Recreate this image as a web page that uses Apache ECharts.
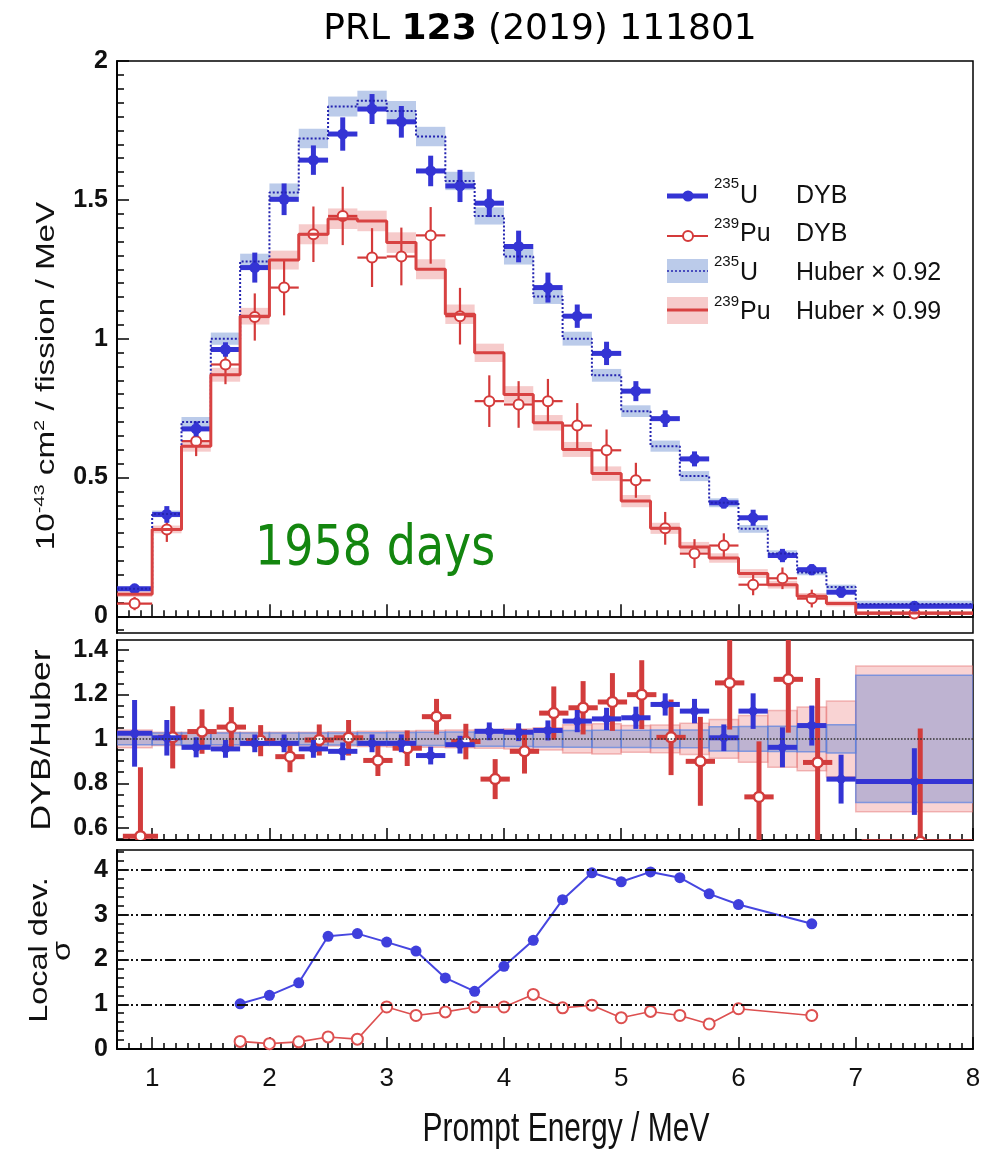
<!DOCTYPE html>
<html>
<head>
<meta charset="utf-8">
<script src="https://cdn.jsdelivr.net/npm/echarts@6/dist/echarts.min.js"></script>
<style>html,body{margin:0;padding:0;background:#fff;}#c{width:994px;height:1149px;}</style>
</head>
<body>
<div id="c"></div>
<script>
// ---------------- data ----------------
const binEdges = [0.7,1.0,1.25,1.5,1.75,2.0,2.25,2.5,2.75,3.0,3.25,3.5,3.75,4.0,4.25,4.5,4.75,5.0,5.25,5.5,5.75,6.0,6.25,6.5,6.75,7.0,8.0];

const u235DYB    = [0.099,0.367,0.675,0.961,1.256,1.502,1.643,1.737,1.827,1.781,1.604,1.550,1.488,1.332,1.184,1.081,0.947,0.811,0.712,0.567,0.409,0.355,0.219,0.168,0.087,0.036];
const u235DYBErr = [0.018,0.030,0.027,0.026,0.054,0.057,0.053,0.060,0.054,0.057,0.055,0.058,0.050,0.057,0.054,0.042,0.042,0.036,0.030,0.027,0.021,0.029,0.024,0.020,0.020,0.018];
const pu239DYB    = [0.046,0.313,0.631,0.907,1.078,1.184,1.376,1.442,1.292,1.296,1.372,1.081,0.775,0.763,0.775,0.687,0.598,0.490,0.317,0.226,0.255,0.114,0.137,0.064,null,0.010];
const pu239DYBErr = [0.024,0.045,0.054,0.071,0.085,0.100,0.100,0.105,0.106,0.104,0.102,0.102,0.093,0.084,0.080,0.081,0.075,0.063,0.059,0.052,0.044,0.038,0.039,0.032,null,0.010];

const u235Huber     = [0.099,0.369,0.700,1.000,1.278,1.526,1.721,1.836,1.857,1.820,1.728,1.568,1.442,1.296,1.152,1.000,0.868,0.739,0.613,0.505,0.409,0.315,0.226,0.158,0.106,0.044];
const u235HuberBand = [0.008,0.012,0.018,0.022,0.028,0.033,0.035,0.036,0.036,0.036,0.035,0.033,0.031,0.029,0.027,0.025,0.023,0.021,0.020,0.018,0.016,0.014,0.012,0.010,0.008,0.012];
const pu239Huber     = [0.080,0.313,0.613,0.870,1.081,1.283,1.376,1.432,1.424,1.346,1.250,1.088,0.949,0.799,0.697,0.601,0.514,0.415,0.317,0.250,0.210,0.154,0.114,0.072,0.046,0.012];
const pu239HuberBand = [0.010,0.014,0.020,0.025,0.030,0.034,0.036,0.037,0.037,0.037,0.036,0.035,0.033,0.030,0.028,0.027,0.026,0.022,0.020,0.018,0.017,0.016,0.014,0.012,0.010,0.006];

const u235Ratio    = [1.025,1.005,0.962,0.955,0.980,0.980,0.955,0.944,0.980,0.980,0.925,0.974,1.034,1.030,1.038,1.080,1.090,1.095,1.155,1.125,1.005,1.125,0.962,1.060,0.819,0.808];
const u235RatioErr = [0.150,0.080,0.045,0.040,0.040,0.040,0.040,0.040,0.040,0.040,0.040,0.040,0.040,0.040,0.045,0.050,0.050,0.050,0.050,0.055,0.060,0.080,0.090,0.090,0.110,0.150];
const pu239Ratio    = [0.562,1.007,1.033,1.053,0.992,0.920,0.995,1.005,0.903,0.958,1.100,0.988,0.819,0.944,1.116,1.140,1.166,1.199,1.007,0.899,1.252,0.739,1.268,0.894,null,0.537];
const pu239RatioErr = [0.310,0.140,0.100,0.090,0.070,0.070,0.070,0.080,0.070,0.080,0.080,0.080,0.090,0.100,0.120,0.120,0.130,0.155,0.170,0.200,0.210,0.250,0.240,0.380,null,0.510];
const u235RatioBand  = [0.026,0.026,0.026,0.026,0.026,0.026,0.026,0.027,0.028,0.029,0.030,0.031,0.033,0.034,0.036,0.038,0.039,0.039,0.040,0.040,0.055,0.056,0.057,0.058,0.064,0.286];
const pu239RatioBand = [0.040,0.030,0.030,0.030,0.030,0.030,0.030,0.032,0.034,0.036,0.038,0.040,0.042,0.045,0.050,0.064,0.068,0.060,0.062,0.070,0.087,0.105,0.128,0.143,0.170,0.328];
const puRatioShift = 0.05;

const devEnergy = [1.75,2.0,2.25,2.5,2.75,3.0,3.25,3.5,3.75,4.0,4.25,4.5,4.75,5.0,5.25,5.5,5.75,6.0,6.625];
const devU235   = [1.01,1.20,1.48,2.52,2.58,2.39,2.19,1.59,1.29,1.85,2.43,3.34,3.94,3.74,3.96,3.83,3.47,3.23,2.80];
const devPu239  = [0.17,0.12,0.16,0.27,0.22,0.94,0.75,0.83,0.94,0.94,1.22,0.92,0.98,0.70,0.84,0.75,0.56,0.90,0.75];

const xMajorTicks = [1,2,3,4,5,6,7,8];
const yTopTicks = [0,0.5,1,1.5,2];
const yMidTicks = [0.6,0.8,1,1.2,1.4];
const yBotTicks = [0,1,2,3,4];

// ---------------- helpers ----------------
const BLUE = '#3434d4', RED = '#d43a3a';
const FONT = 'Liberation Sans, Arial, Helvetica, sans-serif';

function minorTicks(a, b, step, major) {
  const out = [];
  for (let k = Math.ceil(a / step - 1e-9); k * step <= b + 1e-9; k++) {
    const v = +(k * step).toFixed(4);
    const r = v / major;
    if (Math.abs(r - Math.round(r)) < 1e-6) continue;
    out.push(v);
  }
  return out;
}
function crossData(vals, errs, shift) {
  const out = [];
  for (let i = 0; i < vals.length; i++) {
    if (vals[i] == null) continue;
    const lo = binEdges[i] + shift, hi = binEdges[i + 1] + shift;
    out.push([lo, hi, vals[i], errs[i], (lo + hi) / 2]);
  }
  return out;
}
function bandData(vals, errs) {
  return vals.map((v, i) => [binEdges[i], binEdges[i + 1], v, errs[i]]);
}
function stepData(vals) {
  const out = [];
  vals.forEach((v, i) => { out.push([binEdges[i], v], [binEdges[i + 1], v]); });
  return out;
}
function makeCross(color, width, radius, hollow, ringW) {
  return function (params, api) {
    const lo = api.value(0), hi = api.value(1), v = api.value(2), e = api.value(3), c = api.value(4);
    const a = api.coord([lo, v]), b = api.coord([hi, v]);
    const t = api.coord([c, v + e]), d = api.coord([c, v - e]), m = api.coord([c, v]);
    return { type: 'group', children: [
      { type: 'line', shape: { x1: a[0], y1: a[1], x2: b[0], y2: b[1] }, style: { stroke: color, lineWidth: width } },
      { type: 'line', shape: { x1: t[0], y1: t[1], x2: d[0], y2: d[1] }, style: { stroke: color, lineWidth: width } },
      { type: 'circle', shape: { cx: m[0], cy: m[1], r: radius },
        style: hollow ? { fill: '#fff', stroke: color, lineWidth: ringW || 2 } : { fill: color } }
    ]};
  };
}
function makeBand(fill, stroke) {
  return function (params, api) {
    const lo = api.value(0), hi = api.value(1), v = api.value(2), e = api.value(3);
    const p1 = api.coord([lo, v + e]), p2 = api.coord([hi, v - e]);
    return { type: 'rect', shape: { x: p1[0], y: p1[1], width: p2[0] - p1[0], height: p2[1] - p1[1] },
      style: stroke ? { fill: fill, stroke: stroke, lineWidth: 1.5 } : { fill: fill } };
  };
}
function xAx(grid, ticks, len, labels) {
  return { type: 'value', gridIndex: grid, min: 0.7, max: 8, position: 'bottom',
    axisLine: { show: true, lineStyle: { color: '#000', width: 1.5 } },
    axisTick: { show: true, inside: true, length: len, customValues: ticks, lineStyle: { color: '#000', width: 1.5 } },
    axisLabel: labels ? { show: true, customValues: ticks, margin: 17, fontSize: 26, color: '#111', fontFamily: FONT } : { show: false },
    splitLine: { show: false } };
}
function yAx(grid, min, max, ticks, len, labels) {
  return { type: 'value', gridIndex: grid, min: min, max: max, position: 'left',
    axisLine: { show: true, lineStyle: { color: '#000', width: 1.5 } },
    axisTick: { show: true, inside: true, length: len, customValues: ticks, lineStyle: { color: '#000', width: 1.5 } },
    axisLabel: labels ? { show: true, customValues: ticks, margin: 9, fontSize: 25, fontWeight: 'bold', color: '#111', fontFamily: FONT } : { show: false },
    splitLine: { show: false } };
}

const chart = echarts.init(document.getElementById('c'), null, { renderer: 'canvas' });

const legendX0 = 667, legendX1 = 708;
const supStyle = (txt, x, y) => ({ type: 'text', x: x, y: y, style: { text: txt, fontSize: 15, fontFamily: FONT, fill: '#111', align: 'left', verticalAlign: 'middle', textAlign: 'left', textVerticalAlign: 'middle' } });
const mainStyle = (txt, x, y) => ({ type: 'text', x: x, y: y, style: { text: txt, fontSize: 25, fontFamily: FONT, fill: '#111', align: 'left', verticalAlign: 'middle', textAlign: 'left', textVerticalAlign: 'middle' } });

const option = {
  animation: false,
  backgroundColor: '#fff',
  grid: [
    { left: 117, top: 61, width: 856, height: 572, show: true, borderColor: '#000', borderWidth: 1.5, backgroundColor: 'transparent' },
    { left: 117, top: 640, width: 856, height: 200, show: true, borderColor: '#000', borderWidth: 1.5, backgroundColor: 'transparent' },
    { left: 117, top: 850, width: 856, height: 199, show: true, borderColor: '#000', borderWidth: 1.5, backgroundColor: 'transparent' }
  ],
  xAxis: [
    xAx(0, xMajorTicks, 12, false), xAx(0, minorTicks(0.7, 8, 0.1, 1), 6, false),
    xAx(1, xMajorTicks, 12, false), xAx(1, minorTicks(0.7, 8, 0.1, 1), 6, false),
    xAx(2, xMajorTicks, 12, true),  xAx(2, minorTicks(0.7, 8, 0.1, 1), 6, false)
  ],
  yAxis: [
    yAx(0, -0.06, 2, yTopTicks, 12, true), yAx(0, -0.06, 2, minorTicks(-0.06, 2, 0.05, 0.5), 7, false),
    yAx(1, 0.545, 1.445, yMidTicks, 12, true), yAx(1, 0.545, 1.445, minorTicks(0.545, 1.445, 0.05, 0.2), 7, false),
    yAx(2, 0, 4.45, yBotTicks, 12, true), yAx(2, 0, 4.45, minorTicks(0, 4.45, 0.2, 1), 7, false)
  ],
  series: [
    // ---- top panel ----
    { type: 'custom', name: 'Pu Huber band', xAxisIndex: 0, yAxisIndex: 0, clip: true,
      renderItem: makeBand('rgba(232,118,118,0.38)'), data: bandData(pu239Huber, pu239HuberBand), encode: { x: [0, 1], y: 2 } },
    { type: 'custom', name: 'U Huber band', xAxisIndex: 0, yAxisIndex: 0, clip: true,
      renderItem: makeBand('rgba(105,140,208,0.45)'), data: bandData(u235Huber, u235HuberBand), encode: { x: [0, 1], y: 2 } },
    { type: 'line', name: 'U Huber', xAxisIndex: 0, yAxisIndex: 0, data: stepData(u235Huber), symbol: 'none',
      lineStyle: { color: '#2424b0', width: 2, type: [2, 2] } },
    { type: 'line', name: 'Pu Huber', xAxisIndex: 0, yAxisIndex: 0, data: stepData(pu239Huber), symbol: 'none',
      lineStyle: { color: '#d84242', width: 3 } },
    { type: 'custom', name: 'Pu DYB', xAxisIndex: 0, yAxisIndex: 0, clip: true,
      renderItem: makeCross(RED, 2.2, 5, true, 2), data: crossData(pu239DYB, pu239DYBErr, 0), encode: { x: [0, 1], y: 2 } },
    { type: 'custom', name: 'U DYB', xAxisIndex: 0, yAxisIndex: 0, clip: true,
      renderItem: makeCross(BLUE, 5, 5.5, false), data: crossData(u235DYB, u235DYBErr, 0), encode: { x: [0, 1], y: 2 } },
    // ---- ratio panel ----
    { type: 'custom', name: 'Pu ratio band', xAxisIndex: 2, yAxisIndex: 2, clip: true,
      renderItem: makeBand('rgba(236,120,120,0.33)', 'rgba(228,110,110,0.45)'),
      data: bandData(pu239RatioBand.map(() => 1), pu239RatioBand), encode: { x: [0, 1], y: 2 } },
    { type: 'custom', name: 'U ratio band', xAxisIndex: 2, yAxisIndex: 2, clip: true,
      renderItem: makeBand('rgba(95,125,205,0.38)', 'rgba(90,130,225,0.7)'),
      data: bandData(u235RatioBand.map(() => 1), u235RatioBand), encode: { x: [0, 1], y: 2 } },
    { type: 'line', name: 'unity', xAxisIndex: 2, yAxisIndex: 2, data: [], symbol: 'none',
      markLine: { silent: true, symbol: 'none', label: { show: false },
        lineStyle: { color: '#333', type: 'dotted', width: 1.6 }, data: [{ yAxis: 1 }] } },
    { type: 'custom', name: 'Pu ratio', xAxisIndex: 2, yAxisIndex: 2, clip: true,
      renderItem: makeCross('#d23c3c', 5, 5, true, 2.5), data: crossData(pu239Ratio, pu239RatioErr, puRatioShift), encode: { x: [0, 1], y: 2 } },
    { type: 'custom', name: 'U ratio', xAxisIndex: 2, yAxisIndex: 2, clip: true,
      renderItem: makeCross(BLUE, 5, 4.5, false), data: crossData(u235Ratio, u235RatioErr, 0), encode: { x: [0, 1], y: 2 } },
    // ---- local deviation panel ----
    { type: 'line', name: 'U dev', xAxisIndex: 4, yAxisIndex: 4,
      data: devEnergy.map((e, i) => [e, devU235[i]]),
      symbol: 'circle', symbolSize: 11, itemStyle: { color: '#3f3fdc' },
      lineStyle: { color: '#4646e0', width: 2 },
      markLine: { silent: true, symbol: 'none', label: { show: false },
        lineStyle: { color: '#111', type: [11, 3, 2, 3, 2, 3], width: 1.8 },
        data: [{ yAxis: 1 }, { yAxis: 2 }, { yAxis: 3 }, { yAxis: 4 }] } },
    { type: 'line', name: 'Pu dev', xAxisIndex: 4, yAxisIndex: 4,
      data: devEnergy.map((e, i) => [e, devPu239[i]]),
      symbol: 'emptyCircle', symbolSize: 11, itemStyle: { color: '#dd5050', borderWidth: 1.6 },
      lineStyle: { color: '#dd5050', width: 1.6 } }
  ],
  graphic: [
    // title
    { type: 'text', x: 540, y: 30, style: { text: '{n|PRL }{b|123}{n| (2019) 111801}', align: 'center', verticalAlign: 'middle', textAlign: 'center', textVerticalAlign: 'middle',
      fill: '#000', rich: { n: { fontSize: 36, fontFamily: 'DejaVu Sans', fill: '#000' }, b: { fontSize: 36, fontWeight: 'bold', fontFamily: 'DejaVu Sans', fill: '#000' } } } },
    // 1958 days
    { type: 'text', x: 255, y: 550, scaleY: 1.2, style: { text: '1958 days', fontSize: 46, fontFamily: 'DejaVu Sans', fill: '#13860f',
      align: 'left', verticalAlign: 'middle', textAlign: 'left', textVerticalAlign: 'middle' } },
    // axis titles
    { type: 'text', x: 46, y: 376, rotation: Math.PI / 2, scaleX: 1.33, style: {
      text: '{m|10}{s|-43}{m| cm}{s|2}{m| / fission / MeV}', align: 'center', verticalAlign: 'middle', textAlign: 'center', textVerticalAlign: 'middle', fill: '#111',
      rich: { m: { fontSize: 25, fontFamily: FONT, fill: '#111', verticalAlign: 'bottom', lineHeight: 28 }, s: { fontSize: 15, fontFamily: FONT, fill: '#111', verticalAlign: 'top', lineHeight: 15 } } } },
    { type: 'text', x: 43, y: 740, rotation: Math.PI / 2, scaleX: 1.33, style: { text: 'DYB/Huber', fontSize: 27, fontFamily: FONT, fill: '#111',
      align: 'center', verticalAlign: 'middle', textAlign: 'center', textVerticalAlign: 'middle' } },
    { type: 'text', x: 40, y: 950, rotation: Math.PI / 2, scaleX: 1.3, style: { text: 'Local dev.', fontSize: 25, fontFamily: FONT, fill: '#111',
      align: 'center', verticalAlign: 'middle', textAlign: 'center', textVerticalAlign: 'middle' } },
    { type: 'text', x: 63, y: 951, rotation: Math.PI / 2, scaleX: 1.3, style: { text: 'σ', fontSize: 25, fontFamily: FONT, fill: '#111',
      align: 'center', verticalAlign: 'middle', textAlign: 'center', textVerticalAlign: 'middle' } },
    { type: 'text', x: 566, y: 1130, scaleY: 1.35, style: { text: 'Prompt Energy / MeV', fontSize: 30, fontFamily: FONT, fill: '#111',
      align: 'center', verticalAlign: 'middle', textAlign: 'center', textVerticalAlign: 'middle' } },
    // legend
    { type: 'line', shape: { x1: legendX0, y1: 196, x2: legendX1, y2: 196 }, style: { stroke: BLUE, lineWidth: 5 } },
    { type: 'circle', shape: { cx: 688, cy: 196, r: 5.5 }, style: { fill: BLUE } },
    { type: 'line', shape: { x1: legendX0, y1: 236, x2: legendX1, y2: 236 }, style: { stroke: RED, lineWidth: 2 } },
    { type: 'circle', shape: { cx: 688, cy: 236, r: 5 }, style: { fill: '#fff', stroke: RED, lineWidth: 2 } },
    { type: 'rect', shape: { x: legendX0, y: 259, width: legendX1 - legendX0, height: 24 }, style: { fill: 'rgba(105,140,208,0.45)' } },
    { type: 'line', shape: { x1: legendX0, y1: 271, x2: legendX1, y2: 271 }, style: { stroke: '#2424b0', lineWidth: 1.5, lineDash: [2, 2] } },
    { type: 'rect', shape: { x: legendX0, y: 297, width: legendX1 - legendX0, height: 27 }, style: { fill: 'rgba(232,118,118,0.38)' } },
    { type: 'line', shape: { x1: legendX0, y1: 310, x2: legendX1, y2: 310 }, style: { stroke: '#d84242', lineWidth: 3 } },
    supStyle('235', 714, 184), mainStyle('U', 740, 196), mainStyle('DYB', 796, 196),
    supStyle('239', 714, 224), mainStyle('Pu', 740, 234), mainStyle('DYB', 796, 234),
    supStyle('235', 714, 262), mainStyle('U', 740, 273), mainStyle('Huber \u00d7 0.92', 796, 273),
    supStyle('239', 714, 302), mainStyle('Pu', 740, 312), mainStyle('Huber \u00d7 0.99', 796, 312)
  ]
};
chart.setOption(option);
</script>
</body>
</html>
